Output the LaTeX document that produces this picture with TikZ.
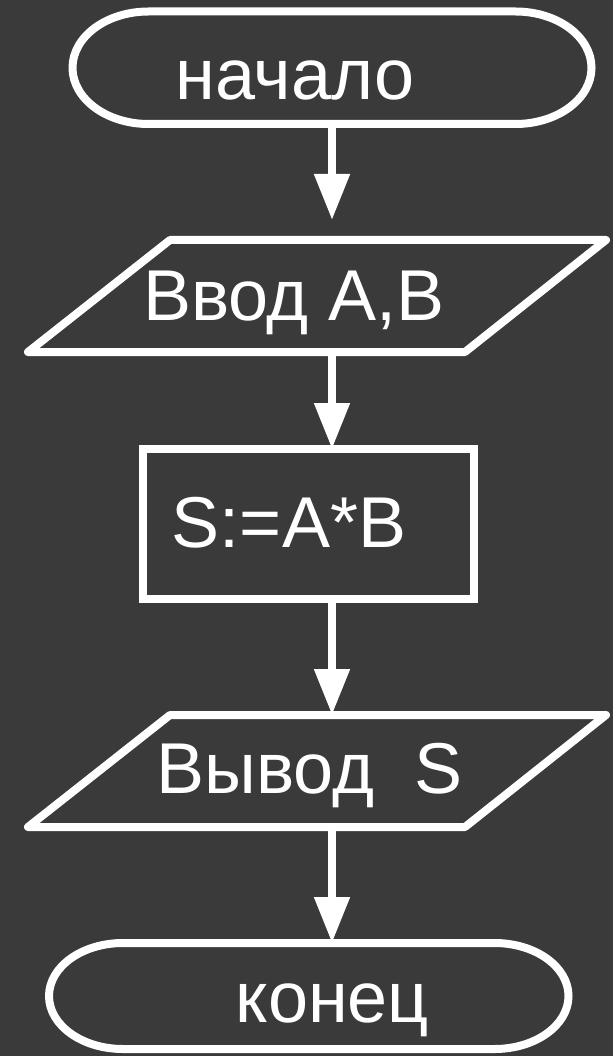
\documentclass[tikz,border=0pt]{standalone}
\usepackage{fontspec}
\setmainfont{Liberation Sans}
\usetikzlibrary{arrows.meta}
\definecolor{bgcol}{RGB}{58,58,58}
\begin{document}
\begin{tikzpicture}[x=1pt,y=-1pt,
  outl/.style={draw=white,line width=8pt,line join=round},
  box/.style={inner sep=0pt,outer sep=0pt,minimum width=#1},
  lbl/.style={text=white,inner sep=0pt,anchor=base,font=\fontsize{72}{86}\selectfont},
  arr/.style={draw=white,line width=8pt,-{Triangle[length=46pt,width=34pt]}}]
\fill[bgcol] (0,0) rectangle (613,1056);
\useasboundingbox (0,0) rectangle (613,1056);
% start terminal
\node[box=519pt,minimum height=112.5pt] (start) at (332,67.75) {};
\draw[outl] ([xshift=76pt]start.north west) -- ([xshift=-76pt]start.north east)
  arc[start angle=90,end angle=-90,x radius=76pt,y radius=56.25pt]
  -- ([xshift=76pt]start.south west)
  arc[start angle=270,end angle=90,x radius=76pt,y radius=56.25pt] -- cycle;
\node[lbl] (tstart) at (295,100) {начало};
% input
\node[box=578pt,minimum height=112pt] (in) at (317,296) {};
\draw[outl] ([xshift=142pt]in.north west) -- (in.north east)
  -- ([xshift=-141pt]in.south east) -- (in.south west) -- cycle;
\node[lbl] (tin) at (294,320) {Ввод A,B};
% process
\node[box=331pt,minimum height=150pt,draw=white,line width=8pt] (proc) at (308.5,524) {};
\node[lbl] (tproc) at (289,547) {S:=A*B};
% output
\node[box=578pt,minimum height=112pt] (out) at (317,771) {};
\draw[outl] ([xshift=142pt]out.north west) -- (out.north east)
  -- ([xshift=-141pt]out.south east) -- (out.south west) -- cycle;
\node[lbl] (tout) at (309.5,793) {Вывод\ \ S};
% end terminal
\node[box=519.5pt,minimum height=106pt] (stop) at (308.75,996) {};
\draw[outl] ([xshift=74pt]stop.north west) -- ([xshift=-74pt]stop.north east)
  arc[start angle=90,end angle=-90,x radius=74pt,y radius=53pt]
  -- ([xshift=74pt]stop.south west)
  arc[start angle=270,end angle=90,x radius=74pt,y radius=53pt] -- cycle;
\node[lbl] (tstop) at (332.5,1022) {конец};
% connectors
\coordinate (gap1) at (332,220);
\draw[arr] (start.south) -- (gap1);
\draw[arr] (start.south |- in.south) -- (start.south |- proc.north);
\draw[arr] (start.south |- proc.south) -- (start.south |- out.north);
\draw[arr] (start.south |- out.south) -- (start.south |- stop.north);
\end{tikzpicture}
\end{document}
